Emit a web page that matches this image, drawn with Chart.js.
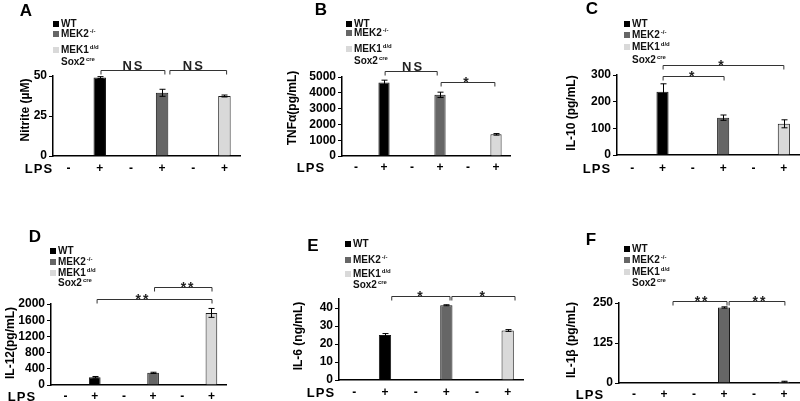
<!DOCTYPE html>
<html>
<head>
<meta charset="utf-8">
<script src="https://cdn.jsdelivr.net/npm/chart.js@4/dist/chart.umd.min.js"></script>
<style>
  html, body { margin: 0; padding: 0; background: #fff; }
  #wrap { position: relative; width: 800px; height: 401px; overflow: hidden; }
  #wrap canvas { position: absolute; left: 0; top: 0; }
</style>
</head>
<body>
<div id="wrap"></div>
<script>
// Categories: LPS - / + for WT, MEK2-/-, MEK1d/d Sox2cre
const categories = ['-', '+', '-', '+', '-', '+'];
const legendRows = [['WT', ''], ['MEK2', '-/-'], ['MEK1', 'd/d'], ['Sox2', 'cre']];

const nitrite = [0, 49, 0, 39.5, 0, 37.5];
const nitriteErr = [0, 0.6, 0, 2.2, 0, 0.6];
const nitriteTicks = [0, 25, 50];

const tnfa = [0, 4650, 0, 3870, 0, 1370];
const tnfaErr = [0, 150, 0, 170, 0, 50];
const tnfaTicks = [0, 1000, 2000, 3000, 4000, 5000];

const il10 = [0, 237, 0, 140, 0, 117];
const il10Err = [0, 30, 0, 10, 0, 15];
const il10Ticks = [0, 100, 200, 300];

const il12 = [0, 190, 0, 300, 0, 1780];
const il12Err = [0, 20, 0, 15, 0, 110];
const il12Ticks = [0, 400, 800, 1200, 1600, 2000];

const il6 = [0, 25, 0, 41.5, 0, 27.5];
const il6Err = [0, 0.8, 0, 0.3, 0, 0.5];
const il6Ticks = [0, 10, 20, 30, 40];

const il1b = [0, 1, 0, 236, 0, 4];
const il1bErr = [0, 0, 0, 2, 0, 1.5];
const il1bTicks = [0, 125, 250];

const barColors = ['#000000', '#000000', '#666666', '#666666', '#d9d9d9', '#d9d9d9'];
const legendColors = ['#000000', '#666666', '#d9d9d9'];
const FONT = 'Arial, "Liberation Sans", sans-serif';

// layout of each panel in page pixels; brackets = [from, to, level, label, labelAt]
const panels = [
  { letter: 'A', values: nitrite, errors: nitriteErr, ticks: nitriteTicks, max: 50, title: 'Nitrite (\u00B5M)',
    area: [53, 76, 240, 156], letterPos: [26, 11], titlePos: [26, 110], lpsPos: [39, 169],
    legend: { x: 53, rows: [24, 34, 50, 62] },
    brackets: [[1.04, 3.09, 53.75, 'NS', 2.08], [3.25, 5.07, 53.75, 'NS', 4.02]] },
  { letter: 'B', values: tnfa, errors: tnfaErr, ticks: tnfaTicks, max: 5000, title: 'TNF\u03B1(pg/mL)',
    area: [342, 77, 510, 156], letterPos: [321, 10], titlePos: [293, 108], lpsPos: [311, 168],
    legend: { x: 346, rows: [24, 33, 49, 61] },
    brackets: [[1.04, 2.9, 5380, 'NS', 2.04], [3.04, 4.96, 4684, '*', 3.96]] },
  { letter: 'C', values: il10, errors: il10Err, ticks: il10Ticks, max: 300, title: 'IL-10 (pg/mL)',
    area: [617, 75, 799, 155], letterPos: [592, 9], titlePos: [572, 113], lpsPos: [597, 169],
    legend: { x: 624, rows: [24, 35, 47, 60] },
    brackets: [[1.02, 3.03, 296, '*', 2.0], [1.02, 5.0, 337.5, '*', 2.96]] },
  { letter: 'D', values: il12, errors: il12Err, ticks: il12Ticks, max: 2000, title: 'IL-12(pg/mL)',
    area: [51, 304, 226, 385], letterPos: [35, 237], titlePos: [11, 343], lpsPos: [22, 397],
    legend: { x: 50, rows: [251, 262, 273, 283] },
    brackets: [[1.08, 5.02, 2123, '**', 2.65], [3.05, 5.02, 2420, '**', 4.2]] },
  { letter: 'E', values: il6, errors: il6Err, ticks: il6Ticks, max: 45, title: 'IL-6 (ng/mL)',
    area: [339, 299, 523, 380], letterPos: [313, 246], titlePos: [299, 336], lpsPos: [321, 393],
    legend: { x: 345, rows: [244, 260, 274, 285] },
    brackets: [[1.22, 3.12, 46.7, '*', 2.17], [3.18, 5.24, 46.7, '*', 4.2]] },
  { letter: 'F', values: il1b, errors: il1bErr, ticks: il1bTicks, max: 250, title: 'IL-1\u03B2 (pg/mL)',
    area: [619, 303, 799, 383], letterPos: [591, 240], titlePos: [572, 340], lpsPos: [590, 395],
    legend: { x: 624, rows: [249, 260, 272, 283] },
    brackets: [[1.3, 3.1, 256, '**', 2.27], [3.17, 5.03, 256, '**', 4.2]] }
];

const decorPlugin = {
  id: 'decor',
  afterDraw(chart) {
    const p = chart.options.plugins.decor.panel;
    const ctx = chart.ctx;
    const x = chart.scales.x, y = chart.scales.y;
    ctx.save();

    // error bars
    ctx.strokeStyle = '#000';
    ctx.lineWidth = 1;
    p.values.forEach((v, i) => {
      const e = p.errors[i];
      if (!e) return;
      const xc = Math.round(x.getPixelForValue(i)) + 0.5;
      const yt = y.getPixelForValue(v + e), yb = y.getPixelForValue(v - e);
      ctx.beginPath();
      ctx.moveTo(xc, yt); ctx.lineTo(xc, yb);
      ctx.moveTo(xc - 3, yt); ctx.lineTo(xc + 3, yt);
      ctx.moveTo(xc - 3, yb); ctx.lineTo(xc + 3, yb);
      ctx.stroke();
    });

    // LPS - / + category labels under the axis
    ctx.fillStyle = '#000';
    ctx.textAlign = 'center';
    ctx.textBaseline = 'middle';
    ctx.font = 'bold 12px ' + FONT;
    categories.forEach((c, i) => {
      ctx.fillText(c, x.getPixelForValue(i), p.lpsPos[1]);
    });

    // significance brackets
    ctx.strokeStyle = '#333';
    ctx.fillStyle = '#222';
    p.brackets.forEach(([from, to, level, label, at]) => {
      const x1 = x.getPixelForValue(from), x2 = x.getPixelForValue(to);
      const yl = Math.round(y.getPixelForValue(level)) + 0.5;
      ctx.beginPath();
      ctx.moveTo(x1, yl + 4); ctx.lineTo(x1, yl); ctx.lineTo(x2, yl); ctx.lineTo(x2, yl + 4);
      ctx.stroke();
      const lx = x.getPixelForValue(at);
      ctx.textBaseline = 'alphabetic';
      ctx.letterSpacing = '2px';
      if (label === 'NS') {
        ctx.font = 'bold 13px ' + FONT;
        ctx.fillText(label, lx, yl - 1);
      } else {
        ctx.font = 'bold 14px ' + FONT;
        ctx.fillText(label, lx, yl + 4);
      }
      ctx.letterSpacing = '0px';
    });

    // legend
    ctx.textAlign = 'left';
    ctx.textBaseline = 'middle';
    legendRows.forEach(([main, sup], i) => {
      const ry = p.legend.rows[i];
      if (i < 3) {
        ctx.fillStyle = legendColors[i];
        ctx.fillRect(p.legend.x, ry - 3, 6, 6);
      }
      ctx.fillStyle = '#111';
      ctx.font = 'bold 10px ' + FONT;
      const tx = p.legend.x + 8;
      ctx.fillText(main, tx, ry);
      if (sup) {
        const w = ctx.measureText(main).width;
        ctx.font = 'bold 6px ' + FONT;
        ctx.fillText(sup, tx + w + 1, ry - 3);
      }
    });

    // panel letter
    ctx.fillStyle = '#000';
    ctx.textAlign = 'center';
    ctx.font = 'bold 17px ' + FONT;
    ctx.fillText(p.letter, p.letterPos[0], p.letterPos[1]);

    // LPS row label
    ctx.font = 'bold 13px ' + FONT;
    ctx.letterSpacing = '1px';
    ctx.fillText('LPS', p.lpsPos[0], p.lpsPos[1]);
    ctx.letterSpacing = '0px';

    // y axis title
    ctx.translate(p.titlePos[0], p.titlePos[1]);
    ctx.rotate(-Math.PI / 2);
    ctx.font = 'bold 12px ' + FONT;
    ctx.fillText(p.title, 0, 0);
    ctx.restore();
  }
};

const wrap = document.getElementById('wrap');
panels.forEach(p => {
  const canvas = document.createElement('canvas');
  canvas.width = 800;
  canvas.height = 401;
  wrap.appendChild(canvas);
  const [L, T, R, B] = p.area;
  new Chart(canvas, {
    type: 'bar',
    data: {
      labels: categories,
      datasets: [{
        data: p.values,
        backgroundColor: barColors,
        borderColor: '#1a1a1a',
        borderWidth: 1,
        barPercentage: 0.4,
        categoryPercentage: 1
      }]
    },
    options: {
      responsive: false,
      animation: false,
      devicePixelRatio: 1,
      layout: { padding: { left: L - 40, top: T, right: 800 - R, bottom: 401 - B - 10 } },
      plugins: {
        legend: { display: false },
        tooltip: { enabled: false },
        decor: { panel: p }
      },
      scales: {
        x: {
          afterFit: s => { s.height = 10; },
          grid: { display: false },
          border: { display: true, color: '#000', width: 1.5 },
          ticks: { display: false }
        },
        y: {
          min: 0,
          max: p.max,
          afterFit: s => { s.width = 40; },
          afterBuildTicks: s => { s.ticks = p.ticks.map(v => ({ value: v })); },
          grid: { display: true, drawOnChartArea: false, drawTicks: true, tickLength: 4, color: '#000' },
          border: { display: true, color: '#000', width: 1.5 },
          ticks: {
            color: '#000', font: { family: FONT, size: 12, weight: 'bold' }, padding: 2,
            autoSkip: false, callback: v => String(v)
          }
        }
      }
    },
    plugins: [decorPlugin]
  });
});
</script>
</body>
</html>
